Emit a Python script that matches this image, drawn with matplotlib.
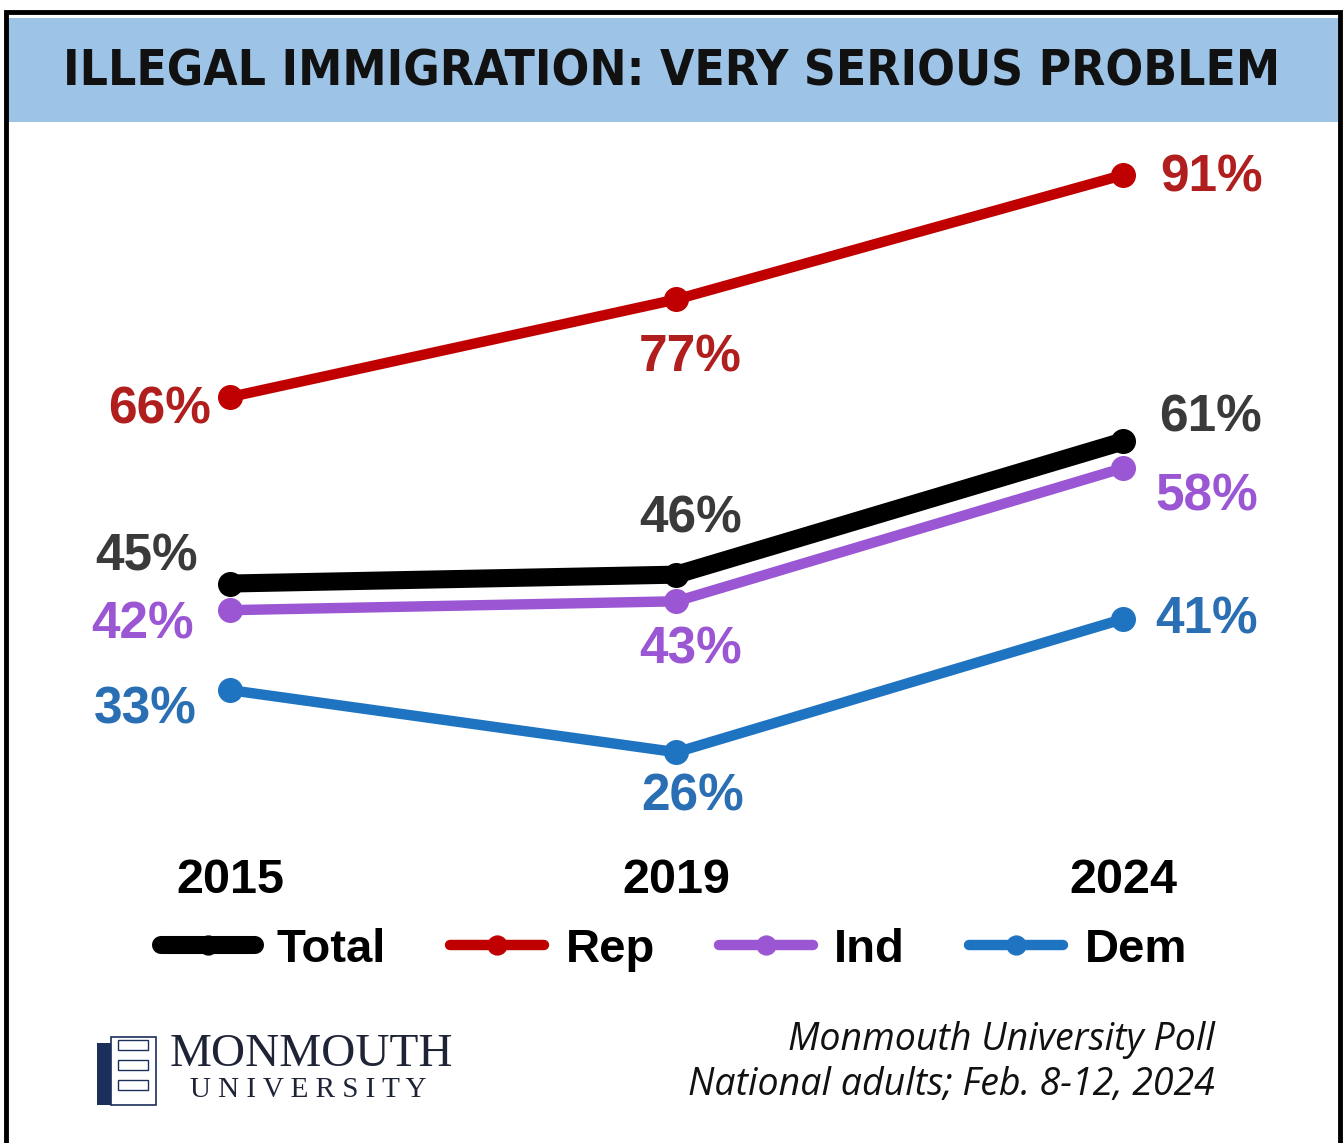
import matplotlib.pyplot as plt
from matplotlib.patches import Rectangle

# data
years = ['2015', '2019', '2024']
total = [45, 46, 61]
rep = [66, 77, 91]
ind = [42, 43, 58]
dem = [33, 26, 41]

names = ['Total', 'Rep', 'Ind', 'Dem']
values = [total, rep, ind, dem]
line_colors = ['#000000', '#C00000', '#9B57D3', '#1F74C1']
label_colors = ['#3A3A3A', '#B01E1E', '#9B57D3', '#2A6FB3']
widths = [13, 7.5, 7.5, 7.5]

# label offsets from each point, in pixels (dx, dy up)
offsets = [
    [(-83, 27), (14, 56), (87, 23)],
    [(-70, -13), (14, -59), (89, -3)],
    [(-87, -15), (14, -49), (84, -29)],
    [(-85, -20), (16, -45), (84, -1)],
]

W, H = 1343, 1143
fig = plt.figure(figsize=(W / 100, H / 100), dpi=100)
fig.patch.set_facecolor('white')

# header band and frame
fig.patches.append(Rectangle((8 / W, 1 - 122 / H), 1332 / W, 104 / H,
                             transform=fig.transFigure, facecolor='#9DC3E6',
                             edgecolor='none', zorder=0))
fig.patches.append(Rectangle((6 / W, -0.01), 1334 / W, 1 - 12 / H + 0.01,
                             transform=fig.transFigure, facecolor='none',
                             edgecolor='black', linewidth=3.5, zorder=5))
title = fig.text(672 / W, 1 - 72 / H, 'ILLEGAL IMMIGRATION: VERY SERIOUS PROBLEM',
                 ha='center', va='center', fontsize=36, fontweight='bold',
                 fontstretch='condensed', family='DejaVu Sans', color='#111111')
# shrink the title so it spans the same width as the original
r = fig.canvas.get_renderer()
tw = title.get_window_extent(r).width
title.set_fontsize(36 * 1215 / tw)

ax = fig.add_axes([60 / W, 0.2564, 1230 / W, 0.6293])
ax.set_xlim(-0.3807, 2.374)
ax.set_ylim(15, 96)
for s in ax.spines.values():
    s.set_visible(False)
ax.set_yticks([])
ax.set_xticks(range(len(years)))
ax.set_xticklabels(years, fontsize=35, fontweight='bold',
                   family='Liberation Sans')
ax.tick_params(axis='x', length=0, pad=6)

order = [3, 2, 0, 1]
handles = {}
for k in order:
    ln, = ax.plot(range(len(years)), values[k], color=line_colors[k],
                  lw=widths[k], marker='o', markersize=17,
                  solid_capstyle='round', label=names[k], zorder=2 + k)
    handles[k] = ln
    for i, v in enumerate(values[k]):
        dx, dy = offsets[k][i]
        ax.annotate(f'{v}%', (i, v), xytext=(dx * 0.72, dy * 0.72),
                    textcoords='offset points', ha='center', va='center',
                    fontsize=37, fontweight='bold', color=label_colors[k],
                    family='Liberation Sans')

leg = ax.legend([handles[k] for k in range(4)], names, loc='center',
                bbox_to_anchor=(674 / W, 1 - 950 / H),
                bbox_transform=fig.transFigure, ncol=4, frameon=False,
                prop={'family': 'Liberation Sans', 'weight': 'bold', 'size': 34},
                handlelength=2.0, handletextpad=0.45, columnspacing=1.35,
                markerscale=0.8)

# logo
fig.patches.append(Rectangle((97 / W, 1 - 1105 / H), 14 / W, 62 / H,
                             transform=fig.transFigure, facecolor='#1B2F5A',
                             edgecolor='none'))
fig.patches.append(Rectangle((111 / W, 1 - 1105 / H), 45 / W, 68 / H,
                             transform=fig.transFigure, facecolor='white',
                             edgecolor='#1B2F5A', linewidth=1.2))
for yy in (1050, 1070, 1090):
    fig.patches.append(Rectangle((118 / W, 1 - yy / H), 30 / W, 10 / H,
                                 transform=fig.transFigure, facecolor='none',
                                 edgecolor='#1B2F5A', linewidth=1.0))
fig.text(170 / W, 1 - 1055 / H, 'MONMOUTH', ha='left', va='center',
         fontsize=34, family='Liberation Serif', color='#1E2436')
fig.text(190 / W, 1 - 1090 / H, 'U N I V E R S I T Y', ha='left', va='center',
         fontsize=21, family='Liberation Serif', color='#1E2436')

# source
fig.text(1215 / W, 1 - 1040 / H, 'Monmouth University Poll', ha='right',
         va='center', fontsize=27, style='italic', family='Open Sans',
         color='#111111')
fig.text(1215 / W, 1 - 1085 / H, 'National adults; Feb. 8-12, 2024',
         ha='right', va='center', fontsize=27, style='italic',
         family='Open Sans', color='#111111')

fig.savefig('out.png', dpi=100)
